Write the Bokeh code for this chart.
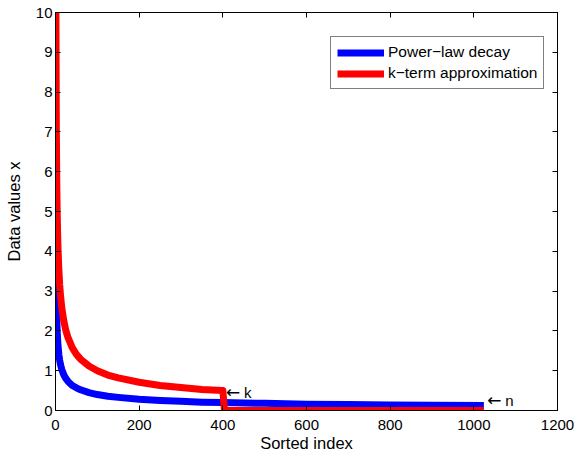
from bokeh.plotting import figure
from bokeh.models import LinearAxis, FixedTicker, Legend, LegendItem, Label, Range1d
from bokeh.embed import file_html
from bokeh.resources import INLINE

# ---- data ----
idx = [1, 2, 3, 4, 5, 6, 8, 10, 12, 15, 20, 25, 30, 40, 50, 60, 80, 100, 125, 150,
       200, 250, 300, 350, 400, 500, 600, 700, 800, 900, 1024]
power_law = [4.0, 2.83, 2.31, 2.0, 1.79, 1.63, 1.41, 1.26, 1.15, 1.03, 0.89, 0.80, 0.73,
             0.63, 0.57, 0.52, 0.45, 0.40, 0.36, 0.33, 0.28, 0.25, 0.23, 0.21, 0.20,
             0.18, 0.16, 0.15, 0.14, 0.13, 0.125]
k_idx = [1, 2, 3, 4, 5, 6, 8, 10, 12, 15, 20, 25, 30, 40, 50, 60, 80, 100, 125, 150,
         200, 250, 300, 350, 400, 404, 1024]
k_term = [10.0, 7.07, 5.77, 5.0, 4.47, 4.08, 3.54, 3.16, 2.89, 2.58, 2.24, 2.0, 1.83,
          1.58, 1.41, 1.29, 1.12, 1.0, 0.89, 0.82, 0.71, 0.63, 0.58, 0.53, 0.50, 0.0, 0.0]
x_ticks = [0, 200, 400, 600, 800, 1000, 1200]
y_ticks = [0, 1, 2, 3, 4, 5, 6, 7, 8, 9, 10]
series_names = ["Power\u2212law decay", "k\u2212term approximation"]
# (letter, x index, y value) of the arrow annotations
annotations = [("k", 403, 0.46), ("n", 1027, 0.26)]

FONT = "Liberation Sans"

p = figure(width=579, height=451, output_backend="svg", toolbar_location=None,
           x_range=Range1d(0, 1200), y_range=Range1d(0, 10),
           min_border_left=55, min_border_right=22, min_border_top=12, min_border_bottom=41)
p.frame_width = 502
p.frame_height = 398
p.xgrid.visible = False
p.ygrid.visible = False
p.outline_line_color = "black"
p.outline_line_width = 1
p.background_fill_color = "white"
p.border_fill_color = "white"

def style_axis(ax, ticks, labels=True):
    ax.ticker = FixedTicker(ticks=ticks)
    ax.major_tick_in = 5
    ax.major_tick_out = 0
    ax.minor_tick_line_color = None
    ax.axis_line_color = "black"
    ax.major_tick_line_color = "black"
    ax.major_label_text_font = FONT
    ax.major_label_text_font_size = "15px"
    ax.major_label_text_color = "black"
    ax.axis_label_text_font = FONT
    ax.axis_label_text_font_size = "16.5px"
    ax.axis_label_text_font_style = "normal"
    ax.axis_label_text_color = "black"
    if not labels:
        ax.major_label_overrides = {t: "" for t in ticks}
        ax.major_label_standoff = 0
        ax.major_label_text_font_size = "0px"

style_axis(p.xaxis[0], x_ticks)
style_axis(p.yaxis[0], y_ticks)
p.xaxis[0].axis_label = "Sorted index"
p.yaxis[0].axis_label = "Data values x"
p.xaxis[0].major_label_standoff = 9
p.xaxis[0].axis_label_standoff = 1
p.yaxis[0].major_label_standoff = 3
p.yaxis[0].axis_label_standoff = 10

top = LinearAxis()
style_axis(top, x_ticks, labels=False)
p.add_layout(top, "above")
right = LinearAxis()
style_axis(right, y_ticks, labels=False)
p.add_layout(right, "right")

r_blue = p.line(idx, power_law, line_color="#0000ff", line_width=7, line_join="round")
r_red = p.line(k_idx, k_term, line_color="#ff0000", line_width=7, line_join="round")

for letter, x, y in annotations:
    p.add_layout(Label(x=x, y=y, text="\u2190", text_font="DejaVu Sans", text_font_size="17px",
                       text_baseline="middle", text_align="left", text_color="black", x_offset=2))
    p.add_layout(Label(x=x, y=y, text=letter, text_font=FONT, text_font_size="15px",
                       text_baseline="middle", text_align="left", text_color="black", x_offset=20))

legend = Legend(items=[LegendItem(label=series_names[0], renderers=[r_blue]),
                       LegendItem(label=series_names[1], renderers=[r_red])],
                location=(275, 321))
legend.border_line_color = "black"
legend.border_line_width = 1
legend.background_fill_color = "white"
legend.background_fill_alpha = 1
legend.label_text_font = FONT
legend.label_text_font_size = "15.5px"
legend.label_text_color = "black"
legend.glyph_width = 47
legend.glyph_height = 17
legend.label_height = 17
legend.label_standoff = 4
legend.spacing = 3
legend.padding = 6
legend.margin = 0
p.add_layout(legend, "center")

open("out.html", "w").write(file_html(p, INLINE))
